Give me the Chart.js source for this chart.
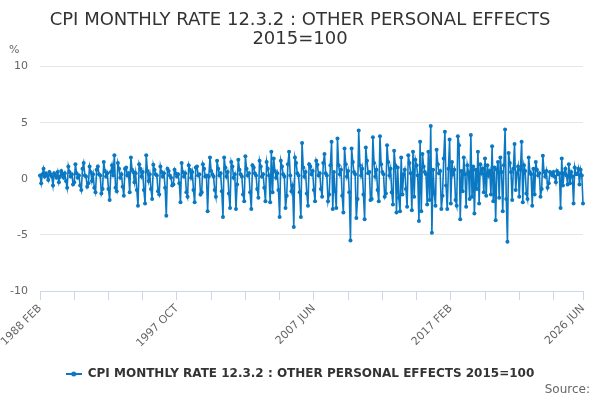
<!DOCTYPE html>
<html>
<head>
<meta charset="utf-8">
<script src="https://cdn.jsdelivr.net/npm/chart.js@4.4.1/dist/chart.umd.min.js"></script>
<style>
  html, body { margin: 0; padding: 0; background: #fff; }
  #wrap { width: 600px; height: 400px; }
</style>
</head>
<body>
<div id="wrap"><canvas id="cpi-canvas"></canvas></div>
<script>
// monthly rate, % change on previous month (1988 FEB .. 2026 JUN)
const startYear = 1988;
const startMonth = 1; // 0 = JAN, so 1 = FEB
const monthNames = ['JAN', 'FEB', 'MAR', 'APR', 'MAY', 'JUN', 'JUL', 'AUG', 'SEP', 'OCT', 'NOV', 'DEC'];

const rates = [
    0.3, -0.4, 0.4, 0.9, 0.2, 0.5, 0.3, -0.1, 0.6, 0.4, 0.2,           // 1988
    -0.6, 0.5, 0.3, 0.1, 0.6, -0.3, 0.2, 0.7, 0.4, 0.1, 0.5, -0.2,     // 1989
    -0.8, 1.1, 0.6, 0.2, 0.4, -0.5, -0.3, 1.3, 0.5, 0.1, 0.3, -0.6,    // 1990
    -1.0, 0.9, 1.4, 0.3, 0.2, -0.7, -0.4, 1.1, 0.6, -0.2, 0.4, -0.8,   // 1991
    -1.2, 0.8, 1.1, 0.4, 0.3, -1.3, -0.9, 1.5, 0.7, 0.2, 0.5, -0.9,    // 1992
    -1.9, 0.6, 1.2, 0.3, 2.1, -0.8, -1.1, 1.4, 0.9, 0.1, 0.4, -0.7,    // 1993
    -1.5, 0.9, 1.0, 0.3, 0.5, -1.2, 1.9, 0.8, 0.6, -0.3, 0.5, -1.0,    // 1994
    -2.4, 1.3, 0.9, 0.2, 0.6, -1.0, -2.2, 2.1, 0.7, -0.2, 0.4, -0.9,   // 1995
    -1.8, 1.25, 0.8, 0.4, 0.3, -1.1, -1.4, 1.1, 0.6, 0.2, 0.5, -0.8,   // 1996
    -3.3, 0.9, 0.7, 0.3, 0.1, -0.6, -0.5, 0.8, 0.5, 0.2, 0.4, -0.4,    // 1997
    -2.1, 1.4, 0.6, 0.2, 0.5, -1.2, -1.6, 1.2, 0.8, 0.1, 0.6, -1.0,    // 1998
    -2.1, 1.0, 1.1, 0.3, 0.4, -1.4, -1.2, 1.3, 0.9, 0.2, 0.3, -2.9,    // 1999
    0.2, 1.9, 0.7, 0.4, 0.2, -1.0, -1.6, 1.6, 0.9, 0.3, 0.5, -1.1,     // 2000
    -3.4, 1.9, 1.0, 0.2, 0.6, -1.3, -2.6, 1.5, 1.1, 0.1, 0.4, -2.7,    // 2001
    -0.5, 1.7, 0.8, 0.4, 0.2, -1.4, -2.0, 2.0, 0.9, 0.3, 0.5, -1.2,    // 2002
    -2.7, 1.2, 1.0, 0.5, 0.3, -0.9, -1.7, 1.6, 1.1, 0.2, 0.4, -0.8,    // 2003
    -2.0, 1.5, 0.9, 0.3, -2.1, 2.4, -1.2, 1.8, 0.7, 0.1, 0.5, -1.0,    // 2004
    -3.4, 1.6, 1.1, 0.4, 0.2, -2.6, -1.5, 1.3, 2.4, 0.3, -1.1, -0.6,   // 2005
    -4.3, 1.9, 1.4, 0.5, 0.3, -1.2, -3.4, 3.2, 1.0, 0.2, 0.6, -1.3,    // 2006
    -2.4, 1.3, 1.1, 0.4, 0.7, -1.0, -2.0, 1.6, 1.25, 0.3, 0.5, -0.9,   // 2007
    -1.6, 1.4, 2.2, 0.5, 0.3, -2.0, -1.4, 1.2, 3.3, -2.7, 0.6, -1.1,   // 2008
    -2.6, 3.6, 1.2, 0.4, 0.8, -1.5, -3.0, 2.7, 1.3, 0.2, 0.7, -1.2,    // 2009
    -5.5, 2.7, 1.5, 0.6, 0.4, -3.5, -1.8, 4.3, 1.2, 0.3, 0.9, -1.4,    // 2010
    -3.6, 2.8, 1.6, 0.5, 0.6, -1.9, -1.8, 3.7, 1.4, 0.2, 0.8, -1.0,    // 2011
    -2.0, 3.8, 1.3, 0.6, 0.4, -1.6, -1.3, 3.0, 1.5, 0.3, 0.9, -1.2,    // 2012
    -2.3, 2.5, 1.2, -3.0, 1.0, -1.7, -2.9, 1.9, -1.4, 0.4, 0.8, -0.9,  // 2013
    -2.5, 2.1, 1.4, 0.5, -2.8, 2.4, -1.6, 1.7, 1.2, 0.3, -3.75, 3.3,   // 2014
    -2.9, 2.2, 1.1, 0.6, 0.4, -2.3, 2.4, -1.9, 4.7, -4.8, 0.8, -1.3,   // 2015
    -2.4, 2.6, 1.3, 0.5, 0.7, -2.7, -1.5, 1.8, 4.2, -0.6, -2.7, 0.9,   // 2016
    3.5, -2.2, 1.5, 0.4, 0.8, -1.9, -2.4, 3.8, 3.0, -3.6, 0.7, -1.1,   // 2017
    1.9, 0.4, -2.5, 1.2, 0.6, -1.8, 3.9, -1.6, 1.1, -3.1, 0.8, -0.9,   // 2018
    2.4, -2.2, 1.3, 0.5, 0.9, -1.2, 1.8, -1.5, 1.2, 0.3, 0.7, -1.4,    // 2019
    2.9, -2.0, 1.0, -3.7, 0.8, 1.5, -1.7, 1.9, 0.6, -2.9, 1.2, 4.4,    // 2020
    -1.8, -5.6, 2.3, 1.4, 0.6, -1.9, 0.9, 3.1, -1.0, 0.5, 1.1, -1.6,   // 2021
    0.8, 3.3, -2.1, 1.2, 0.7, -1.3, -1.8, 1.9, 0.6, 0.4, -2.4, 0.9,    // 2022
    -1.4, 1.5, 0.8, 0.3, 0.5, -1.6, -0.9, 2.05, 0.6, 0.2, 0.7, -0.8,   // 2023
    -0.4, 0.6, 0.5, 0.3, 0.6, 0.2, -0.3, 0.7, 0.4, 0.5, -2.6, 1.8,     // 2024
    -0.6, 0.5, 0.9, 0.3, -0.5, 1.3, -0.4, 0.6, 0.2, -2.2, 1.0, 0.4,    // 2025
    0.4, 0.9, -0.5, 0.8, 0.3, -2.2                                     // 2026
];

const yTicks = [-10, -5, 0, 5, 10];
const tickEvery = 29;    // small tick marks on the time axis
const labelEvery = 116;  // labelled ticks

const titleLines = ['CPI MONTHLY RATE 12.3.2 : OTHER PERSONAL EFFECTS', '2015=100'];
const seriesName = 'CPI MONTHLY RATE 12.3.2 : OTHER PERSONAL EFFECTS 2015=100';

const lineColor = '#0a78c2';

// month labels like "1988 FEB"
const months = [];
for (let i = 0; i < rates.length; i++) {
    const m = startMonth + i;
    months.push((startYear + Math.floor(m / 12)) + ' ' + monthNames[m % 12]);
}
const lastIdx = months.length - 1;

// little legend symbol: line with a dot
const legendMark = document.createElement('canvas');
legendMark.width = 16;
legendMark.height = 8;
(function() {
    const c = legendMark.getContext('2d');
    c.strokeStyle = lineColor;
    c.lineWidth = 2;
    c.beginPath();
    c.moveTo(0, 4);
    c.lineTo(16, 4);
    c.stroke();
    c.fillStyle = lineColor;
    c.beginPath();
    c.arc(8, 4, 2.5, 0, Math.PI * 2);
    c.fill();
})();

const extraText = {
    id: 'extraText',
    afterDraw(chart) {
        const c = chart.ctx;
        c.save();
        c.fillStyle = '#666';
        c.font = '11px "DejaVu Sans"';
        c.textBaseline = 'middle';
        c.textAlign = 'left';
        c.fillText('%', 9, 50);
        c.font = '12px "DejaVu Sans"';
        c.textAlign = 'right';
        c.fillText('Source:', 590, 390);
        c.restore();
    }
};

document.addEventListener('DOMContentLoaded', function() {
    const ctx = document.getElementById('cpi-canvas');
    new Chart(ctx, {
        type: 'line',
        data: {
            labels: months,
            datasets: [{
                label: seriesName,
                data: rates,
                borderColor: lineColor,
                backgroundColor: lineColor,
                borderWidth: 1.6,
                pointRadius: 2,
                pointHoverRadius: 3,
                pointBorderWidth: 0,
                tension: 0
            }]
        },
        options: {
            responsive: true,
            maintainAspectRatio: false,
            animation: false,
            layout: {
                padding: { left: 0, right: 0, top: 0, bottom: 10 }
            },
            plugins: {
                title: {
                    display: true,
                    text: titleLines,
                    color: '#333',
                    font: { family: 'DejaVu Sans', size: 18, weight: 'normal', lineHeight: 1.1 },
                    padding: { top: 10, bottom: 17 }
                },
                legend: {
                    display: true,
                    position: 'bottom',
                    labels: {
                        color: '#333',
                        font: { family: 'DejaVu Sans', size: 12, weight: 'bold' },
                        usePointStyle: true,
                        pointStyleWidth: 16,
                        padding: 10,
                        generateLabels: function(chart) {
                            const items = Chart.defaults.plugins.legend.labels.generateLabels(chart);
                            items.forEach(function(it) { it.pointStyle = legendMark; });
                            return items;
                        }
                    }
                },
                tooltip: { enabled: false }
            },
            scales: {
                x: {
                    afterFit: function(scale) { scale.height = 67; },
                    afterBuildTicks: function(scale) {
                        scale.ticks = scale.ticks.filter(function(t) {
                            return t.value % tickEvery === 0 || t.value === lastIdx;
                        });
                    },
                    grid: {
                        display: true,
                        drawOnChartArea: false,
                        drawTicks: true,
                        tickLength: 9,
                        color: '#ccd6eb'
                    },
                    border: { display: true, color: '#ccd6eb', width: 1 },
                    ticks: {
                        autoSkip: false,
                        minRotation: 45,
                        maxRotation: 45,
                        padding: 2,
                        color: '#666',
                        font: { family: 'DejaVu Sans', size: 11 },
                        callback: function(value) {
                            if (value % labelEvery === 0 || value === lastIdx) {
                                return this.getLabelForValue(value);
                            }
                            return '';
                        }
                    }
                },
                y: {
                    min: yTicks[0],
                    max: yTicks[yTicks.length - 1],
                    afterFit: function(scale) { scale.width = 40; },
                    afterBuildTicks: function(scale) {
                        scale.ticks = yTicks.map(function(v) { return { value: v }; });
                    },
                    grid: { color: '#e6e6e6', drawTicks: false },
                    border: { display: false },
                    ticks: {
                        padding: 12,
                        color: '#666',
                        font: { family: 'DejaVu Sans', size: 11 }
                    }
                },
                // empty strip on the right, keeps the plot off the edge
                rightGap: {
                    position: 'right',
                    display: true,
                    afterFit: function(scale) { scale.width = 17; },
                    grid: { display: false },
                    border: { display: false },
                    ticks: { display: false }
                }
            }
        },
        plugins: [extraText]
    });
});
</script>
</body>
</html>
